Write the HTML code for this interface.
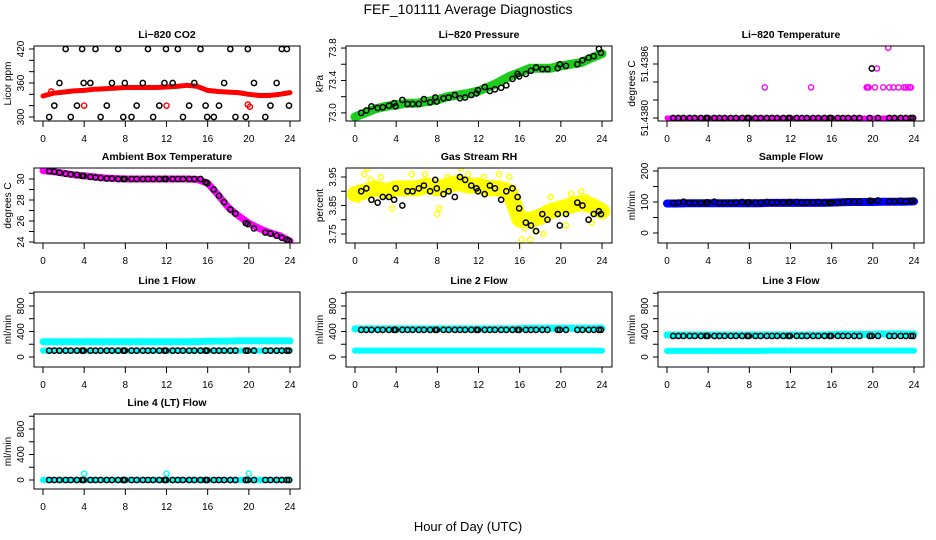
<!DOCTYPE html>
<html><head><meta charset="utf-8">
<style>
html,body{margin:0;padding:0;background:#fff;}
svg{display:block;font-family:"Liberation Sans",sans-serif;}
</style></head>
<body>
<svg id="chart" width="936" height="540" viewBox="0 0 936 540">
<text x="468" y="14" text-anchor="middle" font-size="14">FEF_101111  Average Diagnostics</text>
<text x="468" y="531" text-anchor="middle" font-size="13">Hour of Day (UTC)</text>
</svg>
<script>
// shared x values
const blackHours = [0.6,1.1,1.6,2.2,2.7,3.3,3.8,3.95,4.6,5.1,5.6,6.2,6.7,7.3,7.8,7.95,8.6,9.1,9.7,10.2,10.7,11.3,11.8,11.95,12.6,13.1,13.6,14.2,14.7,15.3,15.8,15.95,16.6,17.1,17.6,18.2,18.7,19.7,19.9,20.5,21.6,22.1,22.7,23.2,23.7,23.9];
const bandHours = [0,1,2,3,4,5,6,7,8,9,10,11,12,13,14,15,16,17,18,19,20,21,22,23,24];
const xTicks = [0,4,8,12,16,20,24];

// CO2
const co2Band = [337,342,344,346,347,349,350,351,352,352,352,352,353,354,356,354,347,345,344,343,340,338,338,340,343];
const co2Black = [300,320,360,420,300,320,420,360,360,420,300,320,360,420,300,360,300,320,360,420,300,320,360,420,360,420,300,320,360,420,320,300,300,320,360,420,300,300,420,360,300,320,360,420,420,320];
const co2ExtraX = [0.8,4.0,12.0,19.9,20.1];
const co2ExtraY = [345,320,320,322,318];
// Pressure
const presBand = [72.95,73.0,73.05,73.08,73.1,73.12,73.12,73.14,73.16,73.2,73.22,73.24,73.27,73.32,73.38,73.45,73.5,73.55,73.55,73.55,73.58,73.6,73.62,73.68,73.73];
const presBlack = [73.0,73.03,73.08,73.06,73.07,73.09,73.12,73.08,73.16,73.11,73.11,73.11,73.17,73.13,73.19,73.14,73.18,73.19,73.22,73.18,73.19,73.22,73.24,73.28,73.32,73.27,73.29,73.31,73.34,73.42,73.48,73.45,73.48,73.52,73.56,73.54,73.54,73.55,73.6,73.58,73.6,73.65,73.68,73.7,73.79,73.74];
// Li-820 temperature
const tempBand = [51.4380,51.4380,51.4380,51.4380,51.4380,51.4380,51.4380,51.4380,51.4380,51.4380,51.4380,51.4380,51.4380,51.4380,51.4380,51.4380,51.4380,51.4380,51.4380,51.4380,51.4380,51.4380,51.4380,51.4380,51.4380];
const tempBlack = blackHours.map(h => h === 19.9 ? 51.43855 : 51.4380);
const tempExtraX = [9.5,14.0,19.4,19.5,19.6,20.2,20.4,21.0,21.5,21.6,22.0,22.5,23.0,23.2,23.4,23.6,23.7];
const tempExtraY = [51.43834,51.43834,51.43834,51.43834,51.43834,51.43834,51.43855,51.43834,51.43878,51.43834,51.43834,51.43834,51.43834,51.43834,51.43834,51.43834,51.43834];
// Ambient
const ambBand = [30.8,30.7,30.55,30.4,30.3,30.2,30.1,30.05,30.0,30.0,30.0,30.0,30.0,30.0,30.0,29.95,29.6,28.5,27.3,26.5,25.8,25.3,24.9,24.6,24.1];
const ambBlack = [30.75,30.7,30.6,30.5,30.45,30.4,30.3,30.3,30.2,30.15,30.1,30.05,30.05,30.0,30.0,30.0,30.0,30.0,30.0,30.0,30.0,30.0,30.0,30.0,30.0,30.0,30.0,30.0,30.0,30.0,29.7,29.6,29.0,28.4,27.8,27.1,26.7,25.8,25.7,25.3,24.9,24.8,24.6,24.4,24.2,24.1];
// RH
const rhBand = [3.89,3.90,3.91,3.90,3.91,3.91,3.91,3.92,3.91,3.92,3.93,3.92,3.92,3.91,3.91,3.90,3.80,3.80,3.81,3.83,3.84,3.85,3.86,3.85,3.83];
const rhBlack = [3.90,3.91,3.87,3.86,3.88,3.88,3.87,3.91,3.85,3.90,3.90,3.91,3.92,3.90,3.94,3.91,3.89,3.90,3.88,3.95,3.94,3.92,3.91,3.90,3.89,3.92,3.91,3.87,3.90,3.91,3.88,3.84,3.79,3.78,3.76,3.82,3.80,3.82,3.78,3.82,3.86,3.85,3.80,3.82,3.83,3.82];
const rhExtraX = [0.3,0.9,1.2,1.5,2.5,3.6,5.5,6.8,8.0,8.2,9.0,10.3,11.0,12.5,14.0,15.0,16.2,16.5,17.0,17.5,18.3,19.0,20.5,21.0,22.0,22.5,23.0];
const rhExtraY = [3.87,3.96,3.98,3.94,3.95,3.84,3.96,3.96,3.82,3.84,3.95,3.98,3.96,3.95,3.96,3.95,3.73,3.77,3.73,3.76,3.75,3.88,3.78,3.89,3.90,3.88,3.79];
// Sample flow
const sampBand = [95,95,96,96,96,96,96,96,96,96,97,97,97,97,97,97,98,99,100,100,100,101,101,101,102];
const sampBlack = [97,98,101,97,97,97,98,99,101,97,97,97,98,100,98,99,98,98,100,98,98,98,99,100,100,98,98,98,100,98,97,99,99,100,102,101,101,104,103,105,101,102,104,102,103,104];
// Line flows
const l1Upper = [240,240,240,240,240,240,240,240,240,240,240,240,240,240,240,242,248,250,250,252,252,252,252,252,252];
const l1Lower = [100,100,100,100,100,100,100,100,100,100,100,100,100,100,100,100,100,100,100,100,100,100,100,100,100];
const l1Black = blackHours.map(() => 100);
const l2Upper = [440,440,440,440,440,440,440,440,440,440,440,440,440,440,440,440,445,450,450,450,450,450,450,450,450];
const l2Lower = [100,100,100,100,100,100,100,100,100,100,100,100,100,100,100,100,100,100,100,100,100,100,100,100,100];
const l2Black = blackHours.map(() => 425);
const l3Upper = [345,345,345,345,345,345,345,345,345,345,345,345,345,345,345,345,350,355,355,355,355,360,360,360,360];
const l3Lower = [95,95,95,95,95,95,95,95,95,95,100,100,100,100,100,100,100,100,100,100,100,100,100,100,100];
const l3Black = blackHours.map(() => 330);
const l4Band = [0,0,0,0,0,0,0,0,0,0,0,0,0,0,0,0,0,0,0,0,0,0,0,0,0];
const l4Black = blackHours.map(() => 0);
const l4ExtraX = [4,12,20];
const l4ExtraY = [100,100,100];

const NS = 'http://www.w3.org/2000/svg';
const svg = document.getElementById('chart');
function mk(tag, attrs, parent){ const e=document.createElementNS(NS,tag); for(const k in attrs) e.setAttribute(k,attrs[k]); (parent||svg).appendChild(e); return e; }

const rowsTop=[46,168,292,414], rowsBot=[121,243,367,489];
function panel(o){
  const cx=o.col*312, top=rowsTop[o.row], bot=rowsBot[o.row];
  const g=mk('g',{});
  
  
  const X = h => 43+cx + h*(247/24);
  const Y = v => bot - (v-o.ymin)/(o.ymax-o.ymin)*(bot-top);
  const t=mk('text',{x:167+cx,y:top-8,'text-anchor':'middle','font-size':10.5,'font-weight':'bold'},g);
  t.textContent=o.title;
  
  
  const clip='clip'+o.name; const cp=mk('clipPath',{id:clip},g); mk('rect',{x:34+cx,y:top,width:266,height:bot-top},cp);
  const pg=mk('g',{'clip-path':'url(#'+clip+')'},g);
  (o.bands||[]).forEach(b=>{
    const d=bandHours.map((h,i)=>(i?'L':'M')+X(h).toFixed(1)+' '+Y(b.v[i]).toFixed(1)).join(' ');
    const p=mk('path',{d:d,fill:'none',stroke:b.c,'stroke-width':b.w,'stroke-linecap':'round','stroke-linejoin':'round'},pg);
    
    
  });
  (o.extras||[]).forEach(ex=>{
    ex.x.forEach((h,i)=>{
      const c=mk('circle',{cx:X(h),cy:Y(ex.y[i]),r:2.6,fill:'none',stroke:ex.c,'stroke-width':1.4},pg);
      
      
    });
  });
  if(o.black){
    blackHours.forEach((h,i)=>{
      const c=mk('circle',{cx:X(h),cy:Y(o.black[i]),r:2.6,fill:'none',stroke:'#000','stroke-width':1.5},pg);
      
      
    });
  }
  mk('rect',{x:34+cx,y:top,width:266,height:bot-top,fill:'none',stroke:'#000','stroke-width':1},g);
  xTicks.forEach(h=>{
    mk('line',{x1:X(h),x2:X(h),y1:bot,y2:bot+6,stroke:'#000'},g);
    const tx=mk('text',{x:X(h),y:bot+21,'text-anchor':'middle','font-size':10},g);
    tx.textContent=h;
    
    
  });
  o.yticks.forEach(v=>{ mk('line',{x1:34+cx,x2:29+cx,y1:Y(v),y2:Y(v),stroke:'#000'},g); });
  o.ylabels.forEach((v,i)=>{
    const yy=Y(v);
    const tx=mk('text',{x:0,y:0,'text-anchor':'middle','font-size':10,transform:`translate(${24+cx},${yy}) rotate(-90)`},g);
    tx.textContent=o.ylabelText[i];
    
    
  });
  const yl=mk('text',{x:0,y:0,'text-anchor':'middle','font-size':10,transform:`translate(${11+cx},${(top+bot)/2}) rotate(-90)`},g);
  yl.textContent=o.ylab;
  
  
}
const flowTicks=[0,200,400,600,800,1000], flowLab=[0,400,800], flowTxt=['0','400','800'];
panel({name:'co2-panel',title:'Li\u2212820 CO2',row:0,col:0,ymin:292.9,ymax:425.3,ylab:'Licor ppm',yticks:[300,320,340,360,380,400,420],ylabels:[300,360,420],ylabelText:['300','360','420'],bands:[{v:co2Band,c:'#ff0000',w:5}],extras:[{x:co2ExtraX,y:co2ExtraY,c:'#ff0000'}],black:co2Black});
panel({name:'pressure-panel',title:'Li\u2212820 Pressure',row:0,col:1,ymin:72.90,ymax:73.825,ylab:'kPa',yticks:[73.0,73.2,73.4,73.6,73.8],ylabels:[73.0,73.4,73.8],ylabelText:['73.0','73.4','73.8'],bands:[{v:presBand,c:'#1ecc1e',w:9}],black:presBlack});
panel({name:'li820-temp-panel',title:'Li\u2212820 Temperature',row:0,col:2,ymin:51.437967,ymax:51.4388,ylab:'degrees C',yticks:[51.4380,51.4382,51.4384,51.4386,51.4388],ylabels:[51.4380,51.4386],ylabelText:['51.4380','51.4386'],bands:[{v:tempBand,c:'#ff00ff',w:5}],extras:[{x:tempExtraX,y:tempExtraY,c:'#ff00ff'}],black:tempBlack});
panel({name:'ambient-temp-panel',title:'Ambient Box Temperature',row:1,col:0,ymin:23.905,ymax:31.05,ylab:'degrees C',yticks:[24,25,26,27,28,29,30],ylabels:[24,26,28,30],ylabelText:['24','26','28','30'],bands:[{v:ambBand,c:'#ff00ff',w:7}],black:ambBlack});
panel({name:'rh-panel',title:'Gas Stream RH',row:1,col:1,ymin:3.7184,ymax:3.9816,ylab:'percent',yticks:[3.75,3.80,3.85,3.90,3.95],ylabels:[3.75,3.85,3.95],ylabelText:['3.75','3.85','3.95'],bands:[{v:rhBand,c:'#ffff00',w:16}],extras:[{x:rhExtraX,y:rhExtraY,c:'#ffff00'}],black:rhBlack});
panel({name:'sample-flow-panel',title:'Sample Flow',row:1,col:2,ymin:-32.3,ymax:209.7,ylab:'ml/min',yticks:[0,50,100,150,200],ylabels:[0,100,200],ylabelText:['0','100','200'],bands:[{v:sampBand,c:'#0000ff',w:8}],black:sampBlack});
panel({name:'line1-flow-panel',title:'Line 1 Flow',row:2,col:0,ymin:-156.9,ymax:1019.6,ylab:'ml/min',yticks:flowTicks,ylabels:flowLab,ylabelText:flowTxt,bands:[{v:l1Upper,c:'#00ffff',w:7},{v:l1Lower,c:'#00ffff',w:6}],black:l1Black});
panel({name:'line2-flow-panel',title:'Line 2 Flow',row:2,col:1,ymin:-156.9,ymax:1019.6,ylab:'ml/min',yticks:flowTicks,ylabels:flowLab,ylabelText:flowTxt,bands:[{v:l2Upper,c:'#00ffff',w:7},{v:l2Lower,c:'#00ffff',w:6}],black:l2Black});
panel({name:'line3-flow-panel',title:'Line 3 Flow',row:2,col:2,ymin:-156.9,ymax:1019.6,ylab:'ml/min',yticks:flowTicks,ylabels:flowLab,ylabelText:flowTxt,bands:[{v:l3Upper,c:'#00ffff',w:7},{v:l3Lower,c:'#00ffff',w:6}],black:l3Black});
panel({name:'line4-flow-panel',title:'Line 4 (LT) Flow',row:3,col:0,ymin:-141,ymax:1035,ylab:'ml/min',yticks:flowTicks,ylabels:flowLab,ylabelText:flowTxt,bands:[{v:l4Band,c:'#00ffff',w:6}],extras:[{x:l4ExtraX,y:l4ExtraY,c:'#00ffff'}],black:l4Black});
</script>
</body></html>
